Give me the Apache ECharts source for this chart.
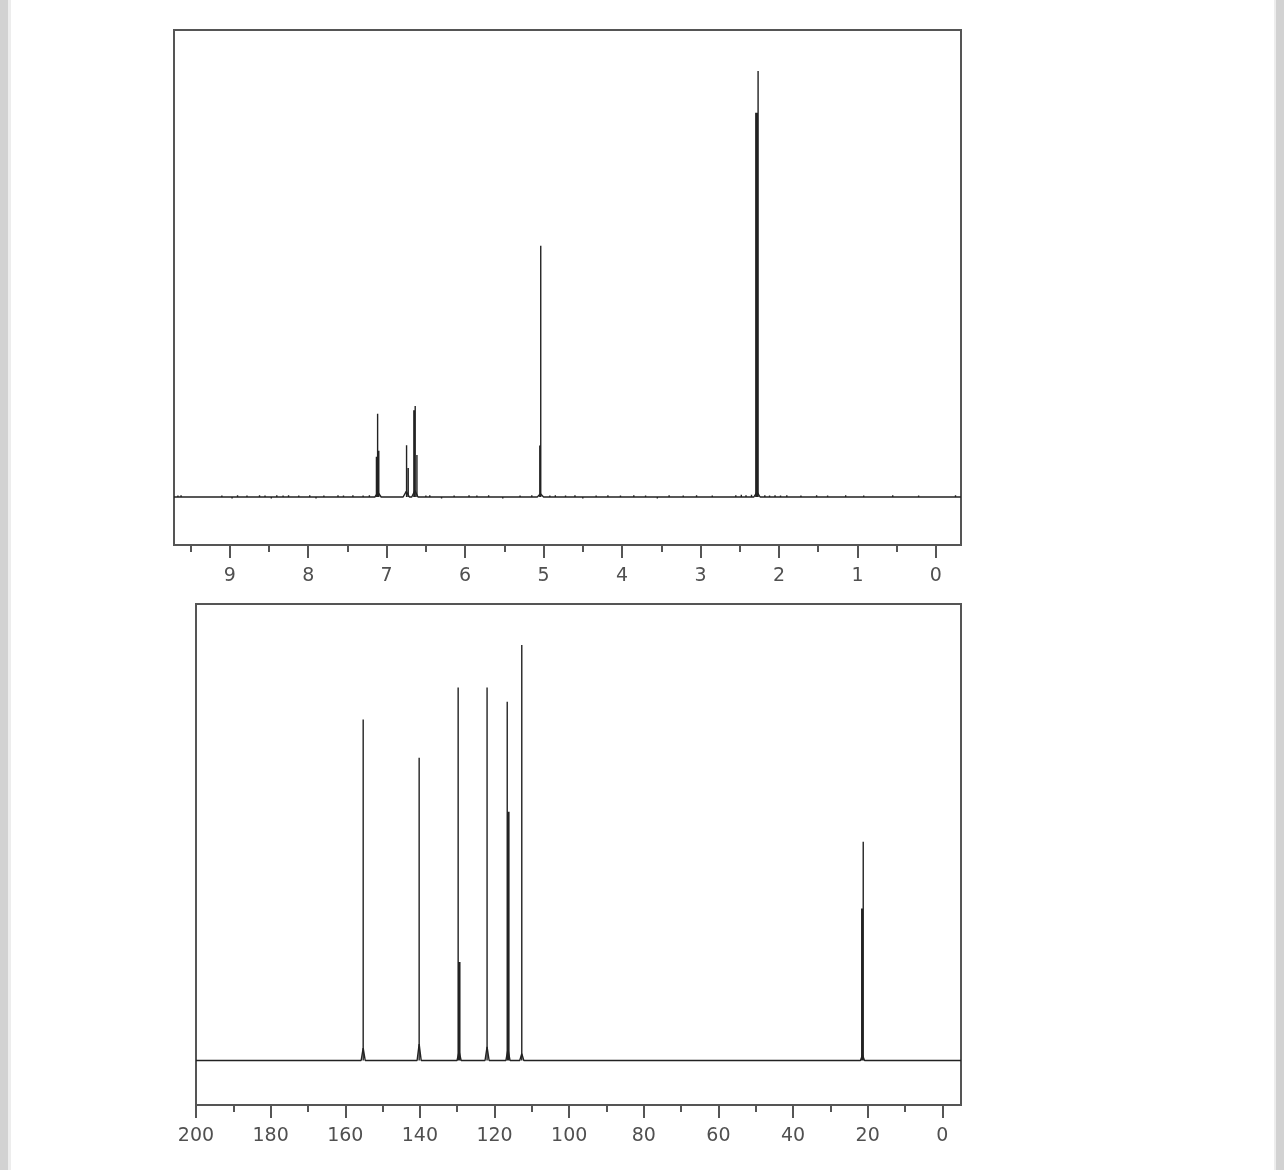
<!DOCTYPE html>
<html>
<head>
<meta charset="utf-8">
<script src="https://cdn.jsdelivr.net/npm/echarts@6/dist/echarts.min.js"></script>
<style>
html,body{margin:0;padding:0;background:#fff;}
#wrap{position:relative;width:1284px;height:1170px;overflow:hidden;background:#fff;}
#bandL{position:absolute;left:0;top:0;width:8px;height:1170px;background:#d2d2d2;border-right:3px solid #ededed;}
#bandR{position:absolute;right:0;top:0;width:8px;height:1170px;background:#d2d2d2;border-left:2px solid #ededed;}
#chart{position:absolute;left:0;top:0;width:1284px;height:1170px;}
</style>
</head>
<body>
<div id="wrap">
  <div id="bandL"></div>
  <div id="bandR"></div>
  <div id="chart"></div>
</div>
<script>
// ---------- 1H spectrum (ppm) ----------
const hRange = [-0.32, 9.71];
const hPeakShift  = [7.130, 7.115, 7.100, 6.746, 6.725, 6.653, 6.636, 6.614, 5.048, 5.036, 2.295, 2.283, 2.266];
const hPeakHeight = [0.086, 0.178, 0.099, 0.111, 0.062, 0.186, 0.195, 0.090, 0.110, 0.538, 0.823, 0.823, 0.912];
const hHumpShift  = [7.11, 6.75, 6.64, 5.04, 2.28];
const hHumpHeight = [0.010, 0.012, 0.014, 0.007, 0.011];
const hNoiseShift  = [9.66, 9.62, 9.10, 8.97, 8.90, 8.78, 8.62, 8.55, 8.47, 8.40, 8.32, 8.25, 8.12, 7.98, 7.90, 7.80, 7.62, 7.55, 7.43, 7.30, 7.22, 6.50, 6.45, 6.30, 6.14, 5.95, 5.85, 5.70, 5.52, 5.30, 5.15, 4.92, 4.85, 4.72, 4.60, 4.50, 4.33, 4.18, 4.02, 3.85, 3.70, 3.55, 3.40, 3.22, 3.05, 2.85, 2.55, 2.48, 2.42, 2.35, 2.18, 2.12, 2.05, 1.98, 1.90, 1.72, 1.52, 1.38, 1.15, 0.92, 0.55, 0.22, -0.25];
const hNoiseHeight = [0.003, 0.004, 0.003, -0.003, 0.004, 0.003, 0.004, 0.003, -0.003, 0.004, 0.003, 0.004, 0.003, 0.004, -0.003, 0.003, 0.004, 0.003, 0.004, 0.003, 0.004, 0.003, 0.004, -0.003, 0.003, 0.004, 0.003, 0.004, -0.003, 0.003, 0.004, 0.003, 0.004, 0.003, 0.004, -0.003, 0.003, 0.004, 0.003, 0.004, 0.003, -0.003, 0.004, 0.003, 0.004, 0.003, 0.004, 0.005, 0.004, 0.005, 0.004, 0.003, 0.004, 0.003, 0.004, 0.003, 0.004, 0.003, 0.004, 0.003, 0.004, 0.003, 0.004];
const hMajorTicks = [0, 9];      // labelled integer ppm ticks span
const hMinorTicks = [0, 9.5];    // half-ppm ticks span

// ---------- 13C spectrum (ppm) ----------
const cRange = [-5, 200];
const cPeakShift  = [155.2, 140.2, 129.75, 129.5, 129.3, 122.0, 116.6, 116.35, 116.15, 112.7, 21.6, 21.4, 21.2];
const cPeakHeight = [0.747, 0.663, 0.817, 0.216, 0.216, 0.817, 0.786, 0.545, 0.545, 0.910, 0.333, 0.333, 0.479];
const cHumpShift  = [155.2, 140.2, 129.5, 122.0, 116.4, 112.7, 21.4];
const cHumpHeight = [0.027, 0.036, 0.020, 0.030, 0.025, 0.015, 0.012];
const cMajorTicks = [0, 200];
const cMinorTicks = [0, 200];

// ---------- build line data from the values ----------
function baseline(range, hs, hh, hw) {
  const idx = hs.map((s, i) => i).sort((a, b) => hs[b] - hs[a]);
  const d = [[range[1], 0]];
  idx.forEach(i => { d.push([hs[i] + hw, 0]); d.push([hs[i], hh[i]]); d.push([hs[i] - hw, 0]); });
  d.push([range[0], 0]);
  return d;
}
function sticks(ps, ph) {
  const d = [];
  ps.forEach((s, i) => { d.push([s, 0]); d.push([s, ph[i]]); d.push('-'); });
  return d;
}
const hBase = baseline(hRange, hHumpShift, hHumpHeight, 0.04);
const hSticks = sticks(hPeakShift.concat(hNoiseShift), hPeakHeight.concat(hNoiseHeight));
const cBase = baseline(cRange, cHumpShift, cHumpHeight, 0.55);
const cSticks = sticks(cPeakShift, cPeakHeight);

const chart = echarts.init(document.getElementById('chart'), null, {renderer: 'canvas'});
const frameColor = '#555';
const inkColor = '#222';
const labelStyle = {show: true, margin: 22, fontSize: 19, color: '#505050', fontFamily: 'DejaVu Sans'};

const hpx = 787 / (hRange[1] - hRange[0]);
const cpx = 765 / (cRange[1] - cRange[0]);

const option = {
  animation: false,
  backgroundColor: 'transparent',
  grid: [
    {left: 174, top: 30, width: 787, height: 515, show: true, borderColor: frameColor, borderWidth: 2, backgroundColor: 'transparent'},
    {left: 174 + (hRange[1] - hMajorTicks[1]) * hpx, top: 525, width: (hMajorTicks[1] - hMajorTicks[0]) * hpx, height: 20},
    {left: 174 + (hRange[1] - hMinorTicks[1]) * hpx, top: 525, width: (hMinorTicks[1] - hMinorTicks[0]) * hpx, height: 20},
    {left: 196, top: 604, width: 765, height: 501, show: true, borderColor: frameColor, borderWidth: 2, backgroundColor: 'transparent'},
    {left: 196 + (cRange[1] - cMajorTicks[1]) * cpx, top: 1085, width: (cMajorTicks[1] - cMajorTicks[0]) * cpx, height: 20}
  ],
  xAxis: [
    {gridIndex: 0, type: 'value', min: hRange[0], max: hRange[1], inverse: true, show: false},
    {gridIndex: 1, type: 'value', min: hMajorTicks[0], max: hMajorTicks[1], interval: 1, inverse: true, position: 'bottom',
     axisLine: {show: false}, splitLine: {show: false},
     axisTick: {show: true, inside: false, length: 13, lineStyle: {color: frameColor, width: 2}},
     axisLabel: labelStyle},
    {gridIndex: 2, type: 'value', min: hMinorTicks[0], max: hMinorTicks[1], interval: 0.5, inverse: true, position: 'bottom',
     axisLine: {show: false}, splitLine: {show: false},
     axisTick: {show: true, inside: false, length: 7, lineStyle: {color: frameColor, width: 2}},
     axisLabel: {show: false}},
    {gridIndex: 3, type: 'value', min: cRange[0], max: cRange[1], inverse: true, show: false},
    {gridIndex: 4, type: 'value', min: cMinorTicks[0], max: cMinorTicks[1], interval: 10, inverse: true, position: 'bottom',
     axisLine: {show: false}, splitLine: {show: false},
     axisTick: {show: true, inside: false, length: 7, lineStyle: {color: frameColor, width: 2}},
     axisLabel: {show: false}},
    {gridIndex: 4, type: 'value', min: cMajorTicks[0], max: cMajorTicks[1], interval: 20, inverse: true, position: 'bottom',
     axisLine: {show: false}, splitLine: {show: false},
     axisTick: {show: true, inside: false, length: 13, lineStyle: {color: frameColor, width: 2}},
     axisLabel: labelStyle}
  ],
  yAxis: [
    {gridIndex: 0, type: 'value', min: -0.1028, max: 1, show: false},
    {gridIndex: 1, type: 'value', min: 0, max: 1, show: false},
    {gridIndex: 2, type: 'value', min: 0, max: 1, show: false},
    {gridIndex: 3, type: 'value', min: -0.0975, max: 1, show: false},
    {gridIndex: 4, type: 'value', min: 0, max: 1, show: false}
  ],
  series: [
    {type: 'line', xAxisIndex: 0, yAxisIndex: 0, data: hBase, showSymbol: false, silent: true, lineStyle: {color: inkColor, width: 1.4}},
    {type: 'line', xAxisIndex: 0, yAxisIndex: 0, data: hSticks, showSymbol: false, silent: true, connectNulls: false, lineStyle: {color: inkColor, width: 1.4}},
    {type: 'line', xAxisIndex: 3, yAxisIndex: 3, data: cBase, showSymbol: false, silent: true, lineStyle: {color: inkColor, width: 1.4}},
    {type: 'line', xAxisIndex: 3, yAxisIndex: 3, data: cSticks, showSymbol: false, silent: true, connectNulls: false, lineStyle: {color: inkColor, width: 1.4}}
  ]
};
chart.setOption(option);
</script>
</body>
</html>
